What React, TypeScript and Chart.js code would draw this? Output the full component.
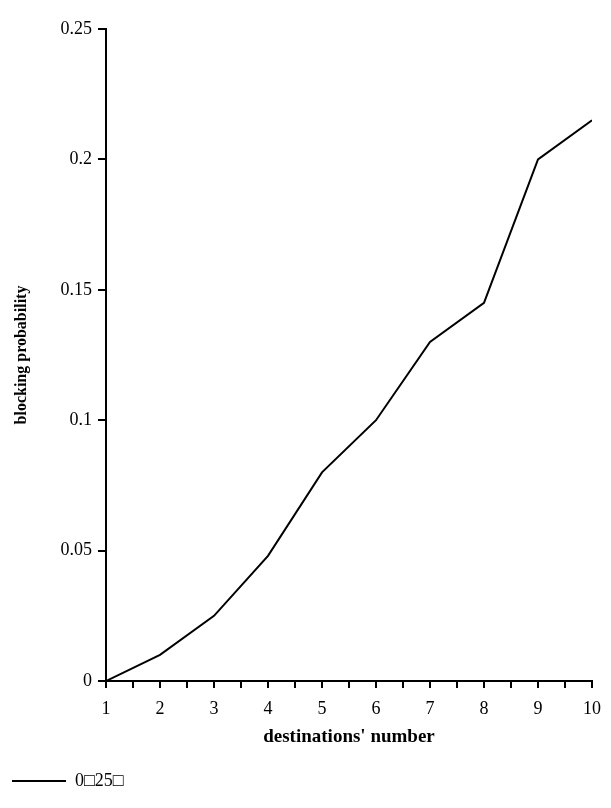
import React, { useEffect, useRef } from "react";
import Chart from "chart.js/auto";

const destinations = [1, 2, 3, 4, 5, 6, 7, 8, 9, 10];
const blocking = [0, 0.01, 0.025, 0.048, 0.08, 0.1, 0.13, 0.145, 0.2, 0.215];
const seriesLabel = "0\u25A125\u25A1";

const App: React.FC = () => {
  const canvasRef = useRef<HTMLCanvasElement | null>(null);

  useEffect(() => {
    const canvas = canvasRef.current;
    if (!canvas) return;
    const font = "'Liberation Serif', 'Times New Roman', serif";
    const chart = new Chart(canvas, {
      type: "line",
      data: {
        datasets: [
          {
            label: seriesLabel,
            data: destinations.map((d, i) => ({ x: d, y: blocking[i] })),
            borderColor: "#000",
            backgroundColor: "#000",
            borderWidth: 2,
            pointRadius: 0,
            tension: 0,
          },
        ],
      },
      options: {
        animation: false,
        responsive: true,
        maintainAspectRatio: false,
        layout: { padding: { top: 21, right: 0, left: 0, bottom: 0 } },
        plugins: {
          tooltip: { enabled: false },
          legend: {
            position: "bottom",
            align: "start",
            labels: {
              boxWidth: 54,
              boxHeight: 0,
              color: "#000",
              font: { family: font, size: 18 },
              padding: 4,
              generateLabels: () => [
                { text: seriesLabel, strokeStyle: "#000", fillStyle: "#000", lineWidth: 2, hidden: false, datasetIndex: 0 } as any,
              ],
            },
          },
        },
        scales: {
          x: {
            type: "linear",
            min: 1,
            max: 10,
            ticks: {
              stepSize: 0.5,
              color: "#000",
              font: { family: font, size: 18 },
              padding: 10,
              autoSkip: false,
              maxRotation: 0,
              callback: (v: any) => (Number.isInteger(v) ? String(v) : ""),
            },
            grid: { drawOnChartArea: false, color: "#000", tickLength: 7, lineWidth: 2 },
            border: { color: "#000", width: 2 },
            title: {
              display: true,
              text: "destinations' number",
              color: "#000",
              font: { family: font, size: 19, weight: "bold" },
              padding: { top: 18, bottom: 20 },
            },
            afterFit: (s: any) => { s.height = 87; },
          },
          y: {
            min: 0,
            max: 0.25,
            ticks: {
              stepSize: 0.05,
              color: "#000",
              font: { family: font, size: 18 },
              padding: 6,
              callback: (v: any) => String(Math.round(v * 100) / 100),
            },
            grid: { drawOnChartArea: false, color: "#000", tickLength: 8, lineWidth: 2 },
            border: { color: "#000", width: 2 },
            title: {
              display: true,
              text: "blocking probability",
              color: "#000",
              font: { family: font, size: 16, weight: "bold" },
              padding: { bottom: 8 },
            },
            afterFit: (s: any) => { s.width = 98; },
          },
        },
      },
    });
    return () => chart.destroy();
  }, []);

  return (
    <div style={{ width: 603, height: 792, position: "relative" }}>
      <canvas ref={canvasRef} />
    </div>
  );
};

export default App;
